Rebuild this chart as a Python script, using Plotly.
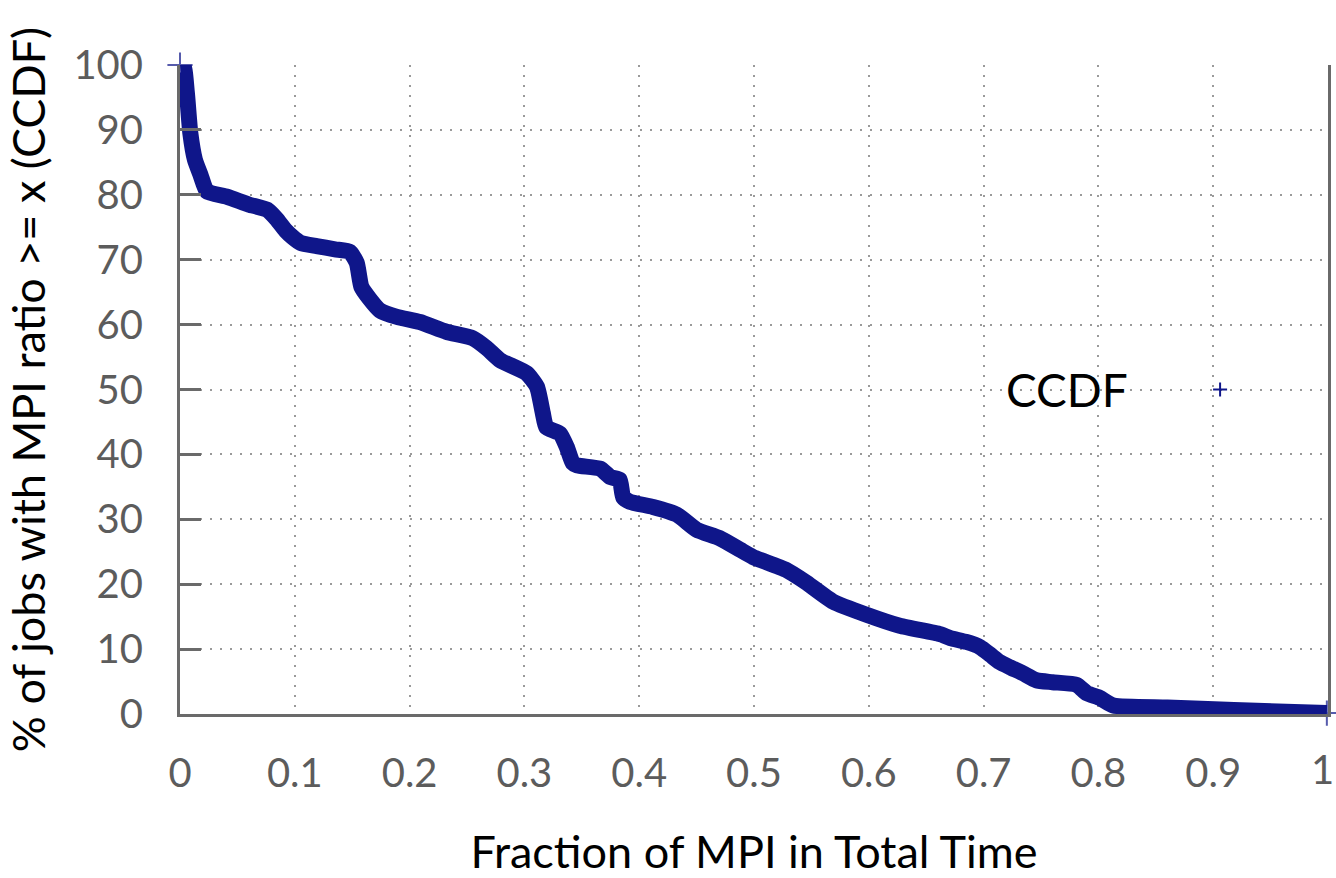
import plotly.graph_objects as go

# CCDF of the MPI share of total runtime
mpi_fraction = [
    0.0, 0.003, 0.006, 0.009, 0.013, 0.018, 0.0235, 0.041, 0.060, 0.076,
    0.084, 0.092, 0.098, 0.105, 0.119, 0.135, 0.148, 0.154, 0.158, 0.165,
    0.174, 0.189, 0.209, 0.232, 0.255, 0.267, 0.279, 0.302, 0.311, 0.316,
    0.319, 0.331, 0.337, 0.342, 0.346, 0.366, 0.375, 0.383, 0.386, 0.392,
    0.412, 0.433, 0.450, 0.470, 0.488, 0.499, 0.528, 0.546, 0.569, 0.598,
    0.627, 0.662, 0.671, 0.685, 0.697, 0.706, 0.714, 0.723, 0.734, 0.746,
    0.760, 0.781, 0.790, 0.801, 0.813, 0.860, 0.918, 0.999,
]
pct_jobs = [
    100, 100, 95.7, 89.5, 85.4, 83.0, 80.5, 79.7, 78.5, 77.7,
    76.3, 74.5, 73.5, 72.6, 72.1, 71.6, 71.2, 69.5, 65.8, 64.0,
    62.2, 61.2, 60.4, 58.9, 57.9, 56.4, 54.5, 52.5, 50.4, 46.4,
    44.2, 43.2, 41.1, 38.7, 38.3, 37.8, 36.5, 36.1, 33.4, 32.7,
    31.9, 30.7, 28.4, 27.1, 25.3, 24.2, 22.2, 20.2, 17.3, 15.3,
    13.6, 12.3, 11.7, 11.1, 10.3, 9.1, 8.0, 7.2, 6.3, 5.2,
    4.9, 4.5, 3.2, 2.5, 1.3, 1.0, 0.6, 0.15,
]

x_ticks = [0, 0.1, 0.2, 0.3, 0.4, 0.5, 0.6, 0.7, 0.8, 0.9, 1]
x_tick_text = ["0", "0.1", "0.2", "0.3", "0.4", "0.5", "0.6", "0.7", "0.8", "0.9", "1"]
y_ticks = [0, 10, 20, 30, 40, 50, 60, 70, 80, 90, 100]

NAVY = "#0f168a"
AXIS = "#6a6a6a"
LABEL = "#5c5c5c"
GRID = "#9a9a9a"
FONT = "Lato, 'Open Sans', sans-serif"

# only the first and last samples show their "+" point symbol
marker_sizes = [0] * len(mpi_fraction)
marker_sizes[0] = 18
marker_sizes[-1] = 18

fig = go.Figure()
fig.add_trace(go.Scatter(
    x=mpi_fraction, y=pct_jobs, mode="lines+markers",
    line=dict(color=NAVY, width=16, shape="spline", smoothing=0.5),
    marker=dict(symbol="cross-thin", size=marker_sizes,
                line=dict(color=NAVY, width=2)),
    showlegend=False, cliponaxis=False,
))

# key for the series: label on the left, point symbol on the right
key_x, key_y, arm = 0.906, 0.5, 7
for dx, dy in [((-arm, arm), (0, 0)), ((0, 0), (-arm, arm))]:
    fig.add_shape(type="line", xref="paper", yref="paper",
                  xsizemode="pixel", ysizemode="pixel",
                  xanchor=key_x, yanchor=key_y,
                  x0=dx[0], x1=dx[1], y0=dy[0], y1=dy[1],
                  line=dict(color=NAVY, width=2))

# the rightmost tick label sits at the page edge, so it is right-aligned
# to its tick instead of centred on it
last_label = dict(text=x_tick_text[-1], xref="x", yref="paper",
                  x=x_ticks[-1], y=0, xanchor="right", yanchor="top",
                  xshift=8, yshift=-29, showarrow=False,
                  font=dict(size=40, color=LABEL, family=FONT))

fig.update_layout(
    width=1336, height=878,
    margin=dict(l=180, r=8, t=65, b=164),
    paper_bgcolor="white", plot_bgcolor="white",
    font=dict(family=FONT, color="#000000"),
    showlegend=False,
    xaxis=dict(
        range=[0, 1], tickvals=x_ticks[:-1], ticktext=x_tick_text[:-1],
        automargin=False,
        showline=True, linecolor=AXIS, linewidth=3, mirror=False,
        ticks="", ticklabelstandoff=22,
        tickfont=dict(size=40, color=LABEL, family=FONT),
        showgrid=True, gridcolor=GRID, gridwidth=1.5, griddash="2px,8px",
        zeroline=False,
        title=dict(text="Fraction of MPI in Total Time", standoff=48,
                   font=dict(size=45, color="#000000", family=FONT)),
    ),
    yaxis=dict(
        range=[0, 100], tickvals=y_ticks,
        automargin=False,
        showline=True, linecolor=AXIS, linewidth=3, mirror=True,
        ticks="inside", ticklen=21, tickwidth=3, tickcolor=AXIS,
        ticklabelstandoff=26,
        tickfont=dict(size=40, color=LABEL, family=FONT),
        showgrid=True, gridcolor=GRID, gridwidth=1.5, griddash="2px,8px",
        zeroline=False,
        title=dict(text="% of jobs with MPI ratio >= x (CCDF)", standoff=14,
                   font=dict(size=45, color="#000000", family=FONT)),
    ),
    annotations=[
        dict(text="CCDF", xref="paper", yref="paper", x=0.773, y=0.5,
             xanchor="center", yanchor="middle", showarrow=False,
             font=dict(size=46, color="#000000", family=FONT)),
        last_label,
    ],
)

fig.write_html("out.html")
